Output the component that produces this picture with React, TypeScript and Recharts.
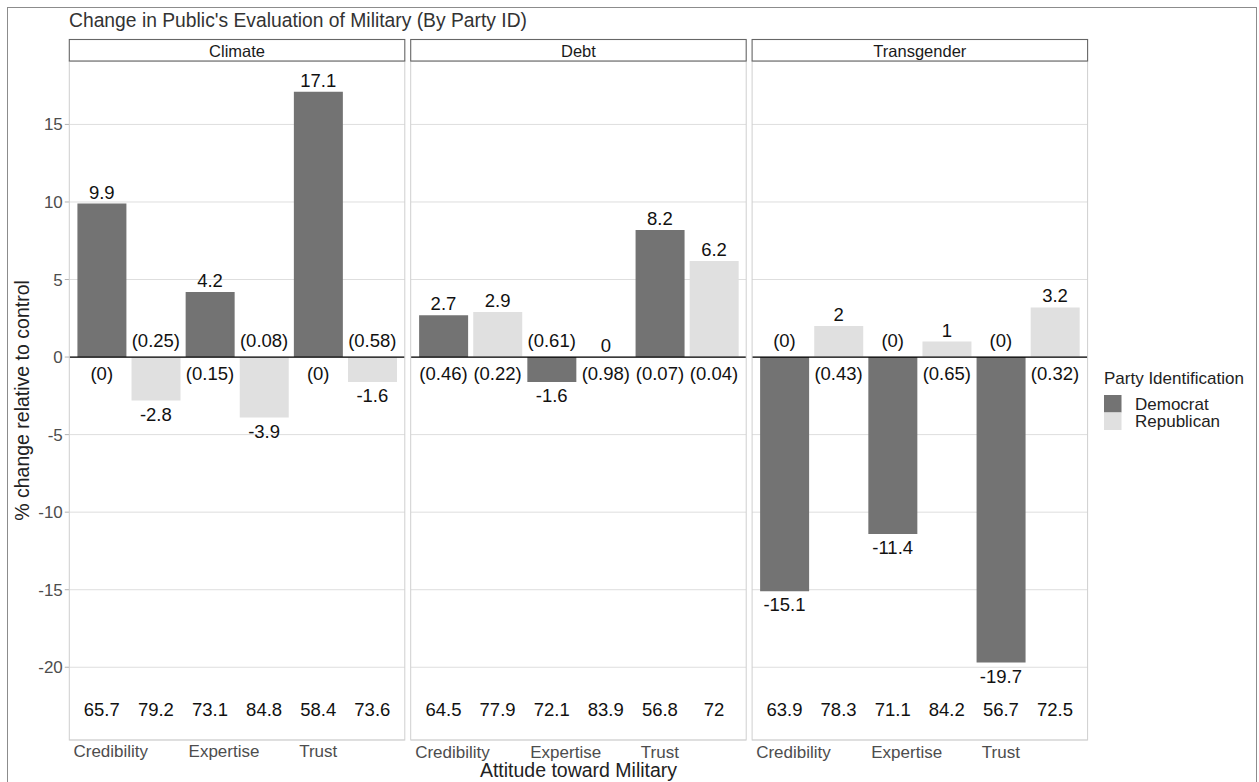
import { BarChart, Bar, Cell, XAxis, YAxis, CartesianGrid, ReferenceLine, ReferenceDot } from "recharts"

const topics = ["Climate", "Debt", "Transgender"]
const attitudes = ["Credibility", "Expertise", "Trust"]
const parties = ["Democrat", "Republican"]

// % change relative to control, one list per topic, one value per attitude
const demChange = [[9.9, 4.2, 17.1], [2.7, -1.6, 8.2], [-15.1, -11.4, -19.7]]
const repChange = [[-2.8, -3.9, -1.6], [2.9, 0, 6.2], [2, 1, 3.2]]
// p-values as printed in parentheses
const demP = [["0", "0.15", "0"], ["0.46", "0.61", "0.07"], ["0", "0", "0"]]
const repP = [["0.25", "0.08", "0.58"], ["0.22", "0.98", "0.04"], ["0.43", "0.65", "0.32"]]
// group means printed along the bottom of each panel
const demMean = [[65.7, 73.1, 58.4], [64.5, 72.1, 56.8], [63.9, 71.1, 56.7]]
const repMean = [[79.2, 84.8, 73.6], [77.9, 83.9, 72], [78.3, 84.2, 72.5]]

const yTicks = [-20, -15, -10, -5, 0, 5, 10, 15]

const partyFill: Record<string, string> = { Democrat: "#737373", Republican: "#E0E0E0" }

const panels = topics.map((topic, t) => ({
  topic,
  rows: attitudes.flatMap((att, a) => [
    { key: `${att}|${parties[0]}`, party: parties[0], value: demChange[t][a], p: demP[t][a], mean: demMean[t][a] },
    { key: `${att}|${parties[1]}`, party: parties[1], value: repChange[t][a], p: repP[t][a], mean: repMean[t][a] },
  ]),
}))

// means sit 3 units under the lowest bar; ggplot-style 5% expansion
const allValues = [...demChange.flat(), ...repChange.flat()]
const meanRowY = Math.min(...allValues) - 3
const maxValue = Math.max(...allValues)
const spread = maxValue - meanRowY
const yDomain = [meanRowY - spread * 0.05, maxValue + spread * 0.05]

const PANEL_TOP = 61
const PANEL_H = 679
const AXIS_W = 69.3
const PANEL_W = 335.5
const GAP = 5.9
const XAXIS_H = 42
const xPad = (PANEL_W / 6.2) * 0.1
const panelLeft = (i: number) => AXIS_W + i * (PANEL_W + GAP)

const FONT = "'Liberation Sans', Arial, Helvetica, sans-serif"
const LABEL_SIZE = 18.5

// axis labels in the original are nudged off the Democrat bar centre
const labelShift: Record<string, number> = { Credibility: 9, Expertise: 14, Trust: 0 }

function AttitudeTick(props: any) {
  const { x, y, payload } = props
  const [att, party] = String(payload.value).split("|")
  if (party !== parties[0]) return <g />
  return (
    <text x={x + labelShift[att]} y={y + 17.5} textAnchor="middle" fill="#4D4D4D" fontSize={17}>
      {att}
    </text>
  )
}

function Panel({ index }: { index: number }) {
  const { rows } = panels[index]
  const first = index === 0
  return (
    <div style={{ position: "absolute", left: first ? 0 : panelLeft(index), top: PANEL_TOP }}>
      <BarChart
        width={(first ? AXIS_W : 0) + PANEL_W}
        height={PANEL_H + XAXIS_H}
        data={rows}
        margin={{ top: 0, right: 0, bottom: 0, left: 0 }}
        barCategoryGap="5%"
      >
        <CartesianGrid vertical={false} stroke="#DEDEDE" strokeWidth={1} />
        <XAxis
          dataKey="key"
          type="category"
          interval={0}
          padding={{ left: xPad, right: xPad }}
          axisLine={false}
          tickLine={false}
          tickSize={0}
          tickMargin={0}
          height={XAXIS_H}
          tick={<AttitudeTick />}
        />
        <YAxis
          hide={!first}
          width={AXIS_W}
          type="number"
          domain={yDomain}
          ticks={yTicks}
          interval={0}
          allowDataOverflow
          axisLine={false}
          tickSize={4.5}
          tickMargin={2}
          tickLine={{ stroke: "#B3B3B3" }}
          tick={{ fill: "#4D4D4D", fontSize: 17 }}
        />
        <Bar dataKey="value" isAnimationActive={false}>
          {rows.map((r) => (
            <Cell key={r.key} fill={partyFill[r.party]} />
          ))}
        </Bar>
        <ReferenceLine y={0} stroke="#000" strokeWidth={1.2} />
        {rows.map((r) => (
          <ReferenceDot
            key={`v-${r.key}`}
            x={r.key}
            y={r.value}
            r={0}
            fill="none"
            stroke="none"
            label={{ value: String(r.value), position: r.value >= 0 ? "top" : "bottom", offset: r.value >= 0 ? 5 : 7, fill: "#111", fontSize: LABEL_SIZE }}
          />
        ))}
        {rows.map((r) => (
          <ReferenceDot
            key={`p-${r.key}`}
            x={r.key}
            y={0}
            r={0}
            fill="none"
            stroke="none"
            label={{ value: `(${r.p})`, position: r.value >= 0 ? "bottom" : "top", offset: 10, fill: "#111", fontSize: LABEL_SIZE }}
          />
        ))}
        {rows.map((r) => (
          <ReferenceDot
            key={`m-${r.key}`}
            x={r.key}
            y={meanRowY}
            r={0}
            fill="none"
            stroke="none"
            label={{ value: String(r.mean), position: "center", fill: "#111", fontSize: LABEL_SIZE }}
          />
        ))}
      </BarChart>
    </div>
  )
}

export default function App() {
  return (
    <div style={{ position: "absolute", left: 0, top: 0, width: 1259, height: 782, background: "#fff", fontFamily: FONT, overflow: "hidden" }}>
      {panels.map((_, i) => (
        <Panel key={i} index={i} />
      ))}
      <svg width={1259} height={782} style={{ position: "absolute", left: 0, top: 0, pointerEvents: "none" }}>
        <rect x={7.5} y={7.5} width={1249} height={800} fill="none" stroke="#8c8c8c" />
        <text x={69} y={27} fontSize={19.3} fill="#333">
          Change in Public's Evaluation of Military (By Party ID)
        </text>
        {panels.map((p, i) => (
          <g key={p.topic}>
            <rect x={panelLeft(i)} y={PANEL_TOP} width={PANEL_W} height={PANEL_H} fill="none" stroke="#CFCFCF" />
            <rect x={panelLeft(i)} y={39.5} width={PANEL_W} height={21.5} fill="#fff" stroke="#666" strokeWidth={1.1} />
            <text x={panelLeft(i) + PANEL_W / 2} y={56.5} textAnchor="middle" fontSize={16.5} fill="#1a1a1a">
              {p.topic}
            </text>
          </g>
        ))}
        <text transform="translate(29, 400.5) rotate(-90)" textAnchor="middle" fontSize={19.5} fill="#222">
          % change relative to control
        </text>
        <text x={578.5} y={777} textAnchor="middle" fontSize={19.5} fill="#222">
          Attitude toward Military
        </text>
        <text x={1104} y={384} fontSize={17} fill="#222">
          Party Identification
        </text>
        {parties.map((party, i) => (
          <g key={party}>
            <rect x={1104} y={395 + i * 17.5} width={17.5} height={17.5} fill={partyFill[party]} />
            <text x={1135} y={409.8 + i * 17.5} fontSize={17} fill="#222">
              {party}
            </text>
          </g>
        ))}
      </svg>
    </div>
  )
}
